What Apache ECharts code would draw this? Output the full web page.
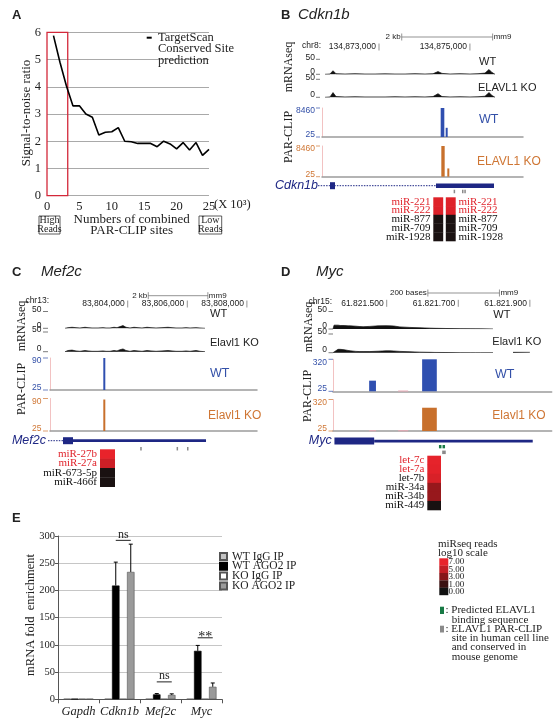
<!DOCTYPE html>
<html>
<head>
<meta charset="utf-8">
<script src="https://cdn.jsdelivr.net/npm/echarts@6.0.0/dist/echarts.min.js"></script>
<style>
html,body{margin:0;padding:0;background:#ffffff;}
#chart{width:560px;height:725px;}
</style>
</head>
<body>
<div id="chart"></div>
<script>
// ===================== DATA =====================
// ---- Panel A: signal-to-noise vs number of combined PAR-CLIP sites (x1000)
const aSites = [1,2,3,4,5,6,7,8,9,10,11,12,13,14,15,16,17,18,19,20,21,22,23,24,25];
const aRatio = [5.88,4.9,4.03,3.3,3.3,3.0,2.88,2.23,2.33,2.35,2.5,2.0,1.98,1.92,1.92,1.92,1.8,2.0,1.9,1.72,1.95,1.68,1.95,1.48,1.7];
const aHighReads = [0, 3.2];
const aLegend = ['TargetScan','Conserved Site','prediction'];

// ---- Panel E: mRNA fold enrichment
const eGenes = ['Gapdh','Cdkn1b','Mef2c','Myc'];
const eNames = ['WT IgG IP','WT AGO2 IP','KO IgG IP','KO AGO2 IP'];
const eWtIgg  = [1,1,1,1];
const eWtAgo2 = [1,209,9,89];
const eKoIgg  = [1,1,1,1];
const eKoAgo2 = [1,234,8,23];
const eWtAgo2Err = [0,43,1.5,10];
const eKoAgo2Err = [0,51,2,7];
const eSigCat = [1,2,3];
const eSigLevel = [292,32,113];
const eSigLabel = ['ns','ns','**'];

// ---- shared track scales
const rnaScale = [0,50];

// ---- Panel B: Cdkn1b (chr8)
const bRange = [134871746,134876168];
const bTicks = [134873000,134875000];
const bScaleBar = [134873500,134875500];
const bRnaPos = [134871812,134871922,134871988,134872054,134872252,134872472,134872692,134872912,134873132,134873352,134873572,134873792,134874012,134874188,134874298,134874386,134874562,134874782,134875002,134875178,134875332,134875420,134875486,134875552];
const bRnaWT = [0,1,12,2,1,2,1,1,1.5,1,1,2,1,2,9,3,1,2,1,2,4,16,6,0];
const bRnaKO = [0,1,13,2,1,1.5,1,1,1,1.5,1,1.5,1,2,10,2,1,1.5,1,1.5,3,13,5,0];
const bParScale = [25,8460];
const bParWT = [[134874357,134874437,8460],[134874467,134874511,2700]];
const bParKO = [[134874371,134874445,8460],[134874503,134874547,2300]];
const bIntron = [[134871658,134874254]];
const bExonBox = [[134871922,134872032]];
const bExonThick = [[134874254,134875530]];
const bGrayMarks = [[134874642,134874672],[134874826,134874856],[134874877,134874907]];
const bMirs = ['miR-221','miR-222','miR-877','miR-709','miR-1928'];
const bMirRed = [true,true,false,false,false];
const bHeatCols = ['site 1','site 2'];
const bHeat = [[0,0,6.6],[0,1,6.5],[0,2,0.4],[0,3,0.4],[0,4,0.4],[1,0,6.6],[1,1,6.5],[1,2,0.4],[1,3,0.4],[1,4,0.4]];

// ---- Panel C: Mef2c (chr13)
const cRange = [83801392,83808339];
const cTicks = [83804000,83806000,83808000];
const cScaleBar = [83804690,83806690];
const cRnaPos = [83801896,83801996,83802131,83802265,83802399,83802567,83802668,83802802,83803003,83803171,83803272,83803406,83803540,83803641,83803742,83803842,83803943,83804077,83804211,83804346,83804480,83804648,83804782,83804950,83805151,83805352,83805487,83805621,83805822,83805957,83806091,83806292,83806426,83806594];
const cRnaWT = [0,2,3,2,1,3,2,1,1,2,1,1,3,2,5,8,3,1,3,2,1,3,2,1,2,3,2,1,1,2,1,2,1,0];
const cRnaKO = [0,3,4,2,1,3,2,1,1,2,1,1,3,2,5,7,3,1,3,2,1,3,2,1,2,3,2,1,1,2,1,3,1,0];
const cParScale = [25,90];
const cParWT = [[83803181,83803248,90]];
const cParKO = [[83803181,83803248,88]];
const cIntron = [[83801325,83801829]];
const cExonBox = [[83801829,83802164]];
const cExonThin = [[83802164,83806628]];
const cGrayMarks = [[83804420,83804470],[83805640,83805690],[83805990,83806040]];
const cMirs = ['miR-27b','miR-27a','miR-673-5p','miR-466f'];
const cMirRed = [true,true,false,false];
const cHeat = [[0,0,7],[0,1,5.8],[0,2,0.4],[0,3,0.4]];

// ---- Panel D: Myc (chr15)
const dRange = [61821350,61821961];
const dTicks = [61821500,61821700,61821900];
const dScaleBar = [61821615,61821815];
const dRnaPos = [61821350,61821353,61821364,61821370,61821381,61821392,61821398,61821414,61821425,61821434,61821453,61821476,61821481,61821498,61821509,61821520,61821537,61821565,61821593,61821621,61821635,61821663,61821677,61821705,61821733,61821747,61821761,61821797,61821852,61821853,61821900,61821901];
const dRnaWT = [0,11,11,10,10,9,9,8,7,6.5,7.5,9,9.5,9.5,9,8.5,6,4.5,3.5,2.5,2,1.5,1.2,1,0.8,0.6,0.5,0,null,null,null,null];
const dRnaKO = [0,5,9,9,8,6,5,3.5,3,3,3,4,4.5,5,5,4.5,3.5,2.5,1.5,1,0.7,0.5,0.3,0.2,0.1,0,0,0,null,1,1,null];
const dParScale = [25,320];
const dParWT = [[61821451,61821470,123],[61821599,61821640,320]];
const dParKO = [[61821599,61821640,243]];
const dParLowWT = [[61821532,61821560,32]];
const dParLowKO = [[61821451,61821470,32],[61821532,61821560,32]];
const dExonBox = [[61821354,61821465]];
const dExonThin = [[61821465,61821908]];
const dGreenMarks = [[61821646,61821653],[61821656,61821663]];
const dGrayMarks = [[61821655,61821665]];
const dMirs = ['let-7c','let-7a','let-7b','miR-34a','miR-34b','miR-449'];
const dMirRed = [true,true,false,false,false,false];
const dHeat = [[0,0,6.9],[0,1,6.8],[0,2,6.3],[0,3,4.2],[0,4,4.2],[0,5,0.3]];

// ---- miRseq colour legend
const heatLegendLabels = ['7.00','5.00','3.00','1.00','0.00'];

// ===================== STYLE / HELPERS =====================
const SERIF = '"Liberation Serif","Times New Roman",serif';
const SANS = '"Liberation Sans",Arial,sans-serif';
const RED = '#e0242c', BLUE = '#3350a8', ORANGE = '#cf7634', NAVY = '#1e2784';
const BAR_BLUE = '#2f4fb0', BAR_ORANGE = '#c8702c';
const HEAT_COLORS = ['#111111','#3a1010','#7d1417','#bf1d23','#e8232b'];
const LEGEND_COLORS = ['#e8232b','#c21d24','#861518','#3a1010','#111111'];

const grids=[], xAxes=[], yAxes=[], series=[], graphics=[];
const heatSeriesIdx = [];

function font(size, family, style, weight){
  return [style, weight, size+'px', family].filter(Boolean).join(' ');
}
function txt(x, y, text, size, o){
  o = o || {};
  const align = o.align || 'left';
  const st = {text:text, fill:o.color||'#222', font:font(size, o.family||SANS, o.style, o.weight),
    align:align, textAlign:align, verticalAlign:'middle', textVerticalAlign:'middle'};
  graphics.push({type:'text', x:x, y:y, rotation:o.rot||0, silent:true, z:100, style:st});
}
function gline(x1,y1,x2,y2,color,w){
  graphics.push({type:'line', silent:true, z:100, shape:{x1,y1,x2,y2}, style:{stroke:color||'#222', lineWidth:w||1}});
}
function grect(x,y,w,h,fill,stroke,lw){
  graphics.push({type:'rect', silent:true, z:100, shape:{x,y,width:w,height:h}, style:{fill:fill||'none', stroke:stroke||null, lineWidth:lw||0}});
}
function grid(rect, xa, ya){
  grids.push(Object.assign({outerBoundsMode:'none', containLabel:false, show:false}, rect));
  const gi = grids.length-1;
  xAxes.push(Object.assign({}, xa, {gridIndex:gi}));
  yAxes.push(Object.assign({}, ya, {gridIndex:gi}));
  return {gi, xi:xAxes.length-1, yi:yAxes.length-1};
}
function hidden(min,max){ return {type:'value', min:min, max:max, show:false}; }
function fmtPos(v, sep){ return String(Math.round(v)).replace(/\B(?=(\d{3})+(?!\d))/g, sep); }
function tstyle(text, size, fam, align, fill){
  return {text:text, font:font(size, fam), fill:fill||'#222', align:align, textAlign:align, verticalAlign:'middle', textVerticalAlign:'middle'};
}

function scaleSeries(ax, bar, label){
  return {type:'custom', xAxisIndex:ax.xi, yAxisIndex:ax.yi, data:[[bar[0], bar[1]]], encode:{x:[0,1]}, silent:true, z:5,
    renderItem:function(p, api){
      const a = api.coord([api.value(0), 1]), b = api.coord([api.value(1), 1]); const y = a[1];
      const ls = {stroke:'#666', lineWidth:0.7};
      return {type:'group', children:[
        {type:'line', shape:{x1:a[0],y1:y,x2:b[0],y2:y}, style:ls},
        {type:'line', shape:{x1:a[0],y1:y-3.5,x2:a[0],y2:y+3.5}, style:ls},
        {type:'line', shape:{x1:b[0],y1:y-3.5,x2:b[0],y2:y+3.5}, style:ls},
        {type:'text', x:a[0]-1, y:y, style:tstyle(label, 8, SANS, 'right')},
        {type:'text', x:b[0]+1, y:y, style:tstyle('mm9', 8, SANS, 'left')}
      ]};
    }};
}
function rulerSeries(ax, ticks, sep){
  return {type:'custom', xAxisIndex:ax.xi, yAxisIndex:ax.yi, data:ticks.map(t=>[t,0]), silent:true, z:5,
    renderItem:function(p, api){
      const c = api.coord([api.value(0), 0]);
      return {type:'group', children:[
        {type:'text', x:c[0]-3, y:c[1], style:tstyle(fmtPos(api.value(0), sep), 8.5, SANS, 'right')},
        {type:'line', shape:{x1:c[0],y1:c[1]-3.5,x2:c[0],y2:c[1]+3.5}, style:{stroke:'#666', lineWidth:0.7}}
      ]};
    }};
}
function rnaSeries(ax, pos, vals){
  return {type:'line', xAxisIndex:ax.xi, yAxisIndex:ax.yi, data:pos.map((p,i)=>[p, vals[i]]), symbol:'none', silent:true,
    connectNulls:false, lineStyle:{color:'#111', width:0.7}, areaStyle:{color:'#111', opacity:1}, z:3};
}
function parSeries(ax, data, color, base){
  return {type:'custom', xAxisIndex:ax.xi, yAxisIndex:ax.yi, data:data, encode:{x:[0,1], y:2}, silent:true, z:4,
    renderItem:function(p, api){
      const a = api.coord([api.value(0), api.value(2)]);
      const b = api.coord([api.value(1), base]);
      return {type:'rect', shape:{x:a[0], y:a[1], width:Math.max(b[0]-a[0], 1.6), height:Math.max(b[1]-a[1], 1)}, style:{fill:color}};
    }};
}
function spanSeries(ax, data, level, height, color, dashed, minW){
  return {type:'custom', xAxisIndex:ax.xi, yAxisIndex:ax.yi, data:data, encode:{x:[0,1]}, silent:true, z:4,
    renderItem:function(p, api){
      const a = api.coord([api.value(0), level]), b = api.coord([api.value(1), level]);
      if (dashed) return {type:'line', shape:{x1:a[0],y1:a[1],x2:b[0],y2:b[1]}, style:{stroke:color, lineWidth:height, lineDash:[1.5,1.2]}};
      return {type:'rect', shape:{x:a[0], y:a[1]-height/2, width:Math.max(b[0]-a[0], minW||0.8), height:height}, style:{fill:color}};
    }};
}
function heatSeries(ax, data, gap){
  series.push({type:'custom', xAxisIndex:ax.xi, yAxisIndex:ax.yi, data:data, encode:{x:0, y:1}, silent:true, z:4,
    renderItem:function(p, api){
      const c = api.coord([api.value(0), api.value(1)]);
      const s = api.size([1,1]);
      return {type:'rect', shape:{x:c[0]-s[0]/2+gap/2, y:c[1]-s[1]/2, width:s[0]-gap, height:s[1]+0.3}, style:{fill:api.visual('color')}};
    }});
  heatSeriesIdx.push(series.length-1);
}

function buildGenome(L, D){
  const xr = {type:'value', min:D.range[0], max:D.range[1], show:false};
  const rul = grid({left:L.x, top:L.ruler[0], width:L.w, height:L.ruler[1]-L.ruler[0]}, xr, hidden(0,1));
  series.push(scaleSeries(rul, D.scale, D.scaleLabel));
  series.push(rulerSeries(rul, D.ticks, D.sep));
  const mW = grid({left:L.x, top:L.mW[0], width:L.w, height:L.mW[1]-L.mW[0]}, xr, hidden(rnaScale[0], rnaScale[1]));
  const mK = grid({left:L.x, top:L.mK[0], width:L.w, height:L.mK[1]-L.mK[0]}, xr, hidden(rnaScale[0], rnaScale[1]));
  series.push(rnaSeries(mW, D.rnaPos, D.rnaWT));
  series.push(rnaSeries(mK, D.rnaPos, D.rnaKO));
  const parX = Object.assign({}, xr, {show:true, axisLine:{show:true, onZero:false, lineStyle:{color:'#9c9c9c', width:1.5}}, axisTick:{show:false}, axisLabel:{show:false}, splitLine:{show:false}});
  const parY = {type:'value', min:D.parScale[0], max:D.parScale[1], show:true, axisLine:{show:true, onZero:false, lineStyle:{color:'#f2c2c2', width:1}}, axisTick:{show:false}, axisLabel:{show:false}, splitLine:{show:false}};
  const pW = grid({left:L.x, top:L.pW[0], width:L.w, height:L.pW[1]-L.pW[0]}, parX, parY);
  const pK = grid({left:L.x, top:L.pK[0], width:L.w, height:L.pK[1]-L.pK[0]}, parX, parY);
  series.push(parSeries(pW, D.parWT, BAR_BLUE, D.parScale[0]));
  series.push(parSeries(pK, D.parKO, BAR_ORANGE, D.parScale[0]));
  if (D.parLowWT) series.push(parSeries(pW, D.parLowWT, '#e9a7b4', D.parScale[0]));
  if (D.parLowKO) series.push(parSeries(pK, D.parLowKO, '#e9a7b4', D.parScale[0]));
  const g = grid({left:L.x, top:L.gene[0], width:L.w, height:L.gene[1]}, xr, hidden(0,3));
  if (D.intron) series.push(spanSeries(g, D.intron, 2.5, 1, NAVY, true));
  if (D.exonBox) series.push(spanSeries(g, D.exonBox, 2.5, 7, NAVY));
  if (D.exonThick) series.push(spanSeries(g, D.exonThick, 2.5, 4.6, NAVY));
  if (D.exonThin) series.push(spanSeries(g, D.exonThin, 2.5, 2.8, NAVY));
  if (D.green) series.push(spanSeries(g, D.green, 1.5, 3.3, '#187a45', false, 2));
  if (D.gray) series.push(spanSeries(g, D.gray, L.grayLevel, 3.5, '#8a8a8a', false, 1.5));
  // heatmap
  const H = L.heat;
  const rowAxis = function(pos, margin){
    return {type:'category', data:D.mirs, inverse:true, position:pos, axisLine:{show:false}, axisTick:{show:false}, splitLine:{show:false},
      axisLabel:{show:true, interval:0, margin:margin, fontFamily:SERIF, fontSize:11, color:function(v, i){ return D.mirRed[i] ? RED : '#111'; }}};
  };
  const h = grid({left:H.x, top:H.y, width:H.w, height:H.h}, {type:'category', data:D.cols, show:false}, rowAxis('left', H.ml));
  if (H.right) { yAxes.push(Object.assign(rowAxis('right', H.mr), {gridIndex:h.gi})); }
  heatSeries(h, D.heat, H.gap);
  // text labels
  const t = L.lab;
  txt(t.chr[0], t.chr[1], D.chr, 8.5, {align:'right'});
  txt(t.rnaLab[0], t.rnaLab[1], 'mRNAseq', 12, {family:SERIF, align:'center', rot:Math.PI/2});
  txt(t.parLab[0], t.parLab[1], 'PAR-CLIP', 12, {family:SERIF, align:'center', rot:Math.PI/2});
  const num = function(y, tickY, text, color){
    txt(t.numR, y, text, 8.5, {align:'right', color:color});
    gline(t.tick[0], tickY, t.tick[1], tickY, color||'#444', 0.7);
  };
  num(L.mW[0]-2, L.mW[0], String(rnaScale[1])); num(L.mW[1]-3, L.mW[1], String(rnaScale[0]));
  num(L.mK[0]-2, L.mK[0], String(rnaScale[1])); num(L.mK[1]-3, L.mK[1], String(rnaScale[0]));
  num(L.pW[0]+3, L.pW[0], String(D.parScale[1]), BLUE); num(L.pW[1]-2.5, L.pW[1], String(D.parScale[0]), BLUE);
  num(L.pK[0]+3, L.pK[0], String(D.parScale[1]), ORANGE); num(L.pK[1]-2.5, L.pK[1], String(D.parScale[0]), ORANGE);
  txt(t.wt[0], t.wt[1], 'WT', 11);
  txt(t.ko[0], t.ko[1], D.koName, 11);
  txt(t.wtP[0], t.wtP[1], 'WT', 12.5, {color:BLUE});
  txt(t.koP[0], t.koP[1], D.koName, 12, {color:ORANGE});
  txt(t.gene[0], t.gene[1], D.gene, 12.5, {align:'right', style:'italic', color:NAVY});
}

// ===================== PANEL A =====================
const A = grid({left:47, top:32.3, width:162, height:163.4},
  {type:'value', min:0, max:25, interval:5, axisLine:{show:false}, axisTick:{show:false}, splitLine:{show:false},
   axisLabel:{color:'#222', fontFamily:SERIF, fontSize:12.5, margin:5}},
  {type:'value', min:0, max:6, interval:1, axisLine:{show:false}, axisTick:{show:false},
   splitLine:{show:true, lineStyle:{color:'#a9a9a9', width:1}},
   axisLabel:{color:'#222', fontFamily:SERIF, fontSize:12.5, margin:6}});
series.push({type:'line', name:'TargetScan', xAxisIndex:A.xi, yAxisIndex:A.yi, data:aSites.map((s,i)=>[s, aRatio[i]]),
  symbol:'none', silent:true, lineStyle:{color:'#000', width:1.6}, z:5,
  markArea:{silent:true, itemStyle:{color:'rgba(0,0,0,0)', borderColor:'#d3283a', borderWidth:1.3},
    data:[[{xAxis:aHighReads[0], yAxis:0},{xAxis:aHighReads[1], yAxis:6}]]}});

// ===================== PANEL E =====================
const BW = 7.5;
const E = grid({left:58, top:536, width:164, height:163.3},
  {type:'category', data:eGenes, axisLine:{show:true, lineStyle:{color:'#555', width:1}}, axisTick:{show:true, length:4, lineStyle:{color:'#555'}},
   axisLabel:{interval:0, fontFamily:SERIF, fontStyle:'italic', fontSize:12.5, color:'#222', margin:6}, splitLine:{show:false}},
  {type:'value', min:0, max:300, interval:50, axisLine:{show:true, lineStyle:{color:'#555', width:1}}, axisTick:{show:true, length:3, lineStyle:{color:'#555'}},
   axisLabel:{fontFamily:SERIF, fontSize:10.5, color:'#222', margin:3}, splitLine:{show:true, lineStyle:{color:'#c6c6c6'}}});
const eVals = [eWtIgg, eWtAgo2, eKoIgg, eKoAgo2];
const eStyles = [
  {color:'#c4c4c4', borderColor:'#555', borderWidth:0.6},
  {color:'#000000', borderColor:'#000', borderWidth:0.6},
  {color:'#ffffff', borderColor:'#555', borderWidth:0.6},
  {color:'#9a9a9a', borderColor:'#555', borderWidth:0.6}
];
eNames.forEach(function(n, k){
  series.push({type:'bar', name:n, xAxisIndex:E.xi, yAxisIndex:E.yi, data:eVals[k], barWidth:BW, barGap:'0%', silent:true, itemStyle:eStyles[k], z:3});
});
function errSeries(vals, errs, idx){
  return {type:'custom', xAxisIndex:E.xi, yAxisIndex:E.yi, data:vals.map((v,i)=>[i, v, errs[i]]), encode:{x:0, y:1}, silent:true, z:6,
    renderItem:function(p, api){
      if (!api.value(2)) return null;
      const c = api.coord([api.value(0), api.value(1)]);
      const t = api.coord([api.value(0), api.value(1)+api.value(2)]);
      const x = c[0] + (idx-1.5)*BW;
      return {type:'group', children:[
        {type:'line', shape:{x1:x, y1:c[1], x2:x, y2:t[1]}, style:{stroke:'#000', lineWidth:1}},
        {type:'line', shape:{x1:x-2, y1:t[1], x2:x+2, y2:t[1]}, style:{stroke:'#000', lineWidth:1}}
      ]};
    }};
}
series.push(errSeries(eWtAgo2, eWtAgo2Err, 1));
series.push(errSeries(eKoAgo2, eKoAgo2Err, 3));
series.push({type:'custom', xAxisIndex:E.xi, yAxisIndex:E.yi, data:eSigCat.map((c,i)=>[c, eSigLevel[i]]), encode:{x:0, y:1}, silent:true, z:6,
  renderItem:function(p, api){
    const c = api.coord([api.value(0), api.value(1)]);
    const x1 = c[0] + (1-1.5)*BW, x2 = c[0] + (3-1.5)*BW;
    const lab = eSigLabel[p.dataIndex];
    const dy = lab === '**' ? 6 : 0;
    return {type:'group', children:[
      {type:'line', shape:{x1:x1, y1:c[1], x2:x2, y2:c[1]}, style:{stroke:'#222', lineWidth:1}},
      {type:'text', x:(x1+x2)/2, y:c[1]-6+dy, style:tstyle(lab, lab==='**'?14:12, SERIF, 'center')}
    ]};
  }});

// ===================== GENOME PANELS =====================
buildGenome(
  {x:322, w:201, ruler:[37,47], mW:[59.3,74.3], mK:[79.3,97.3], pW:[108,137], pK:[146,176.7], gene:[182.8,17.4], grayLevel:1.5,
   heat:{x:432, y:197.3, w:25, h:43.7, gap:2.6, ml:1.5, mr:1.5, right:true},
   lab:{chr:[321,46], rnaLab:[289,67], parLab:[289,137], numR:315, tick:[316,320], wt:[479,61.7], ko:[478,88.3], wtP:[479,119.3], koP:[477,161.7], gene:[318,185.5]}},
  {range:bRange, ticks:bTicks, sep:',', scale:bScaleBar, scaleLabel:'2 kb', rnaPos:bRnaPos, rnaWT:bRnaWT, rnaKO:bRnaKO,
   parScale:bParScale, parWT:bParWT, parKO:bParKO, intron:bIntron, exonBox:bExonBox, exonThick:bExonThick, gray:bGrayMarks,
   mirs:bMirs, mirRed:bMirRed, cols:bHeatCols, heat:bHeat, chr:'chr8:', koName:'ELAVL1 KO', gene:'Cdkn1b'});

buildGenome(
  {x:50, w:207, ruler:[295.7,304], mW:[311.5,328.3], mK:[332,351.7], pW:[358,390], pK:[398.5,431], gene:[436.7,24], grayLevel:1.5,
   heat:{x:100, y:449.3, w:15, h:37.4, gap:0, ml:3},
   lab:{chr:[49,301], rnaLab:[22,326], parLab:[22,389], numR:41.5, tick:[43,48], wt:[210,314], ko:[210,342.7], wtP:[210,373.3], koP:[208,415.7], gene:[46,440.7]}},
  {range:cRange, ticks:cTicks, sep:',', scale:cScaleBar, scaleLabel:'2 kb', rnaPos:cRnaPos, rnaWT:cRnaWT, rnaKO:cRnaKO,
   parScale:cParScale, parWT:cParWT, parKO:cParKO, intron:cIntron, exonBox:cExonBox, exonThin:cExonThin, gray:cGrayMarks,
   mirs:cMirs, mirRed:cMirRed, cols:['site'], heat:cHeat, chr:'chr13:', koName:'Elavl1 KO', gene:'Mef2c'});

buildGenome(
  {x:333, w:218.7, ruler:[293,303.3], mW:[311.5,329], mK:[334,352.7], pW:[359.3,391.3], pK:[399.5,431], gene:[438.2,16.95], grayLevel:0.5,
   heat:{x:427.3, y:455.7, w:13.7, h:54.3, gap:0, ml:3},
   lab:{chr:[332,302], rnaLab:[309,327], parLab:[308,396], numR:327, tick:[328.5,333], wt:[493.3,315], ko:[492.3,341.7], wtP:[495,375], koP:[492.3,416], gene:[331.7,440.7]}},
  {range:dRange, ticks:dTicks, sep:'.', scale:dScaleBar, scaleLabel:'200 bases', rnaPos:dRnaPos, rnaWT:dRnaWT, rnaKO:dRnaKO,
   parScale:dParScale, parWT:dParWT, parKO:dParKO, parLowWT:dParLowWT, parLowKO:dParLowKO, exonBox:dExonBox, exonThin:dExonThin,
   green:dGreenMarks, gray:dGrayMarks, mirs:dMirs, mirRed:dMirRed, cols:['site'], heat:dHeat, chr:'chr15:', koName:'Elavl1 KO', gene:'Myc'});

// ===================== TEXT / ANNOTATIONS =====================
// panel letters and titles
txt(12, 15, 'A', 13, {weight:'bold'});
txt(281, 15, 'B', 13, {weight:'bold'});
txt(298, 15, 'Cdkn1b', 15, {style:'italic'});
txt(12, 272, 'C', 13, {weight:'bold'});
txt(41, 272, 'Mef2c', 15, {style:'italic'});
txt(281, 272, 'D', 13, {weight:'bold'});
txt(316, 272, 'Myc', 15, {style:'italic'});
txt(12, 518, 'E', 13, {weight:'bold'});

// panel A texts
txt(26.5, 113, 'Signal-to-noise ratio', 13, {family:SERIF, align:'center', rot:Math.PI/2});
txt(214, 205, '(X 10\u00B3)', 12.5, {family:SERIF});
txt(131.7, 220, 'Numbers of combined', 13, {family:SERIF, align:'center'});
txt(131.7, 231, 'PAR-CLIP sites', 13, {family:SERIF, align:'center'});
grect(39, 216, 21, 18, 'none', '#333', 0.8);
txt(49.5, 220.7, 'High', 10, {family:SERIF, align:'center'});
txt(49.5, 229.3, 'Reads', 10, {family:SERIF, align:'center'});
grect(199, 216, 22.7, 18, 'none', '#333', 0.8);
txt(210.3, 220.7, 'Low', 10, {family:SERIF, align:'center'});
txt(210.3, 229.3, 'Reads', 10, {family:SERIF, align:'center'});
gline(146.7, 37.7, 151.7, 37.7, '#000', 2);
aLegend.forEach(function(s, i){ txt(158, 37.7 + i*11.5, s, 12.5, {family:SERIF}); });

// panel E axis title
txt(31, 615, 'mRNA fold  enrichment', 12.5, {family:SERIF, align:'center', rot:Math.PI/2});

// miRseq legend
txt(438, 544, 'miRseq reads', 11, {family:SERIF});
txt(438, 553.3, 'log10 scale', 11, {family:SERIF});
heatLegendLabels.forEach(function(l, i){
  grect(439.3, 558.3 + i*7.35, 9, 7.5, LEGEND_COLORS[i]);
  txt(448.5, 562 + i*7.5, l, 9, {family:SERIF});
});
grect(440, 606.7, 4, 7.3, '#187a45');
txt(445.5, 610, ': Predicted ELAVL1', 11, {family:SERIF});
txt(451.7, 620, 'binding sequence', 11, {family:SERIF});
grect(440, 625.7, 4, 6.8, '#8a8a8a');
txt(445.5, 629, ': ELAVL1 PAR-CLIP', 11, {family:SERIF});
txt(451.7, 638.3, 'site in human cell line', 11, {family:SERIF});
txt(451.7, 647.3, 'and conserved in', 11, {family:SERIF});
txt(451.7, 656.7, 'mouse genome', 11, {family:SERIF});

// ===================== CHART =====================
const chart = echarts.init(document.getElementById('chart'), null, {renderer:'canvas', width:560, height:725});
chart.setOption({
  animation:false,
  backgroundColor:'#ffffff',
  textStyle:{fontFamily:SERIF},
  grid:grids, xAxis:xAxes, yAxis:yAxes, series:series,
  legend:{data:eNames, orient:'vertical', left:219, top:550.5, itemWidth:7, itemHeight:7, itemGap:-2.2, icon:'rect', selectedMode:false,
    padding:0, textStyle:{fontFamily:SERIF, fontSize:11.5, color:'#222', lineHeight:9.5}},
  visualMap:[{type:'continuous', show:false, min:0, max:7, dimension:2, seriesIndex:heatSeriesIdx, inRange:{color:HEAT_COLORS}}],
  graphic:graphics
});
</script>
</body>
</html>
